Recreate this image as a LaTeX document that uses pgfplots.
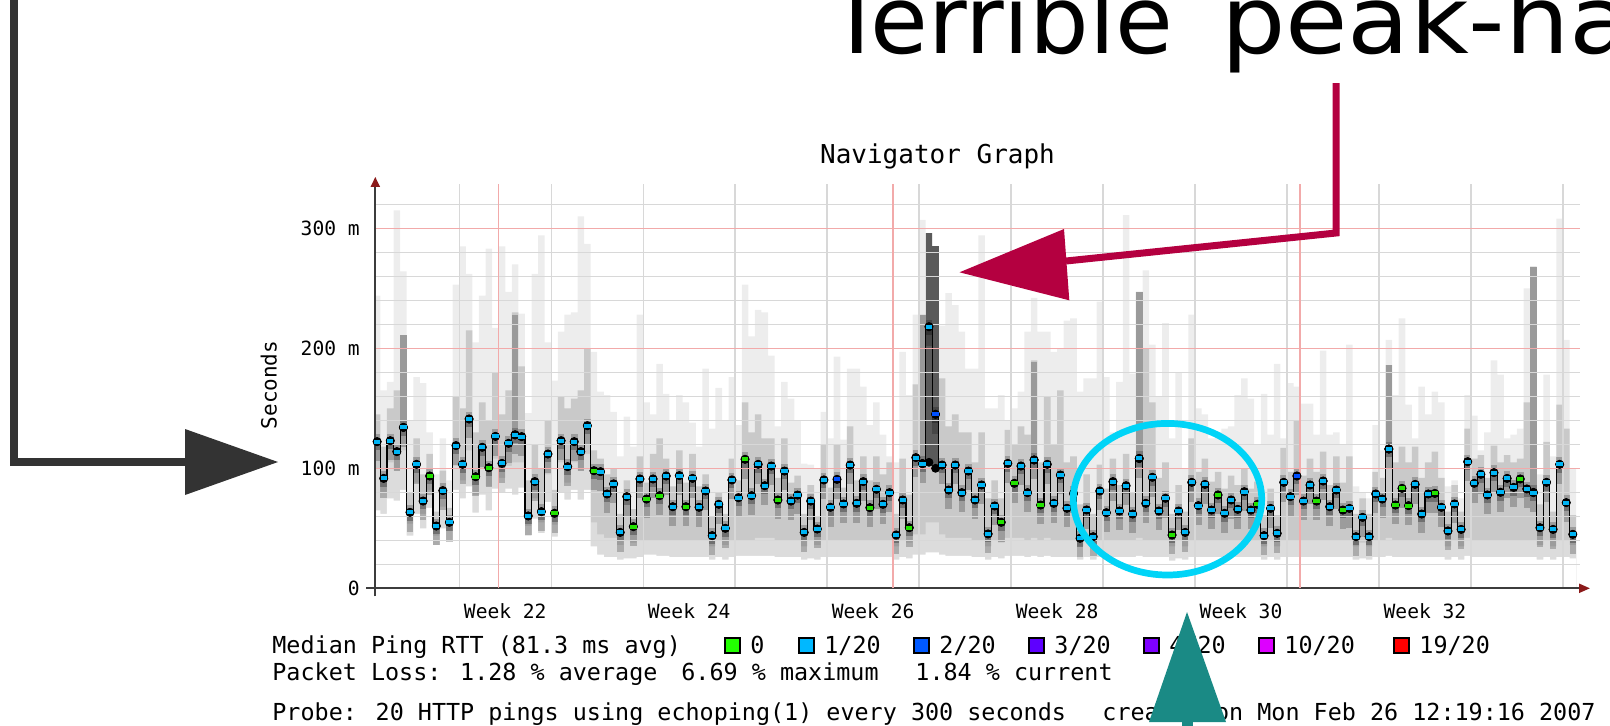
\documentclass[border=0pt]{standalone}
\usepackage{pgfplots}
\pgfplotsset{compat=1.18}
\usepackage{pgfplotstable}
\usepackage{fontspec}
\setmainfont{DejaVu Sans}
\newfontfamily\mono{DejaVu Sans Mono}
\usetikzlibrary{arrows.meta}

\definecolor{smL}{HTML}{EDEDED}
\definecolor{smM}{HTML}{C9C9C9}
\definecolor{smB}{HTML}{DCDCDC}
\definecolor{spkM}{HTML}{9A9A9A}
\definecolor{spkD}{HTML}{5A5A5A}
\definecolor{grd}{HTML}{D8D8D8}
\definecolor{grdR}{HTML}{F2AAAA}
\definecolor{lgreen}{HTML}{22E000}
\definecolor{lblue}{HTML}{00B4F4}
\definecolor{dblue}{HTML}{0050FF}
\definecolor{axdark}{HTML}{3C3C3C}
\definecolor{axred}{HTML}{8B1A1A}
\definecolor{crim}{RGB}{180,0,64}
\definecolor{cyanE}{RGB}{0,212,247}
\definecolor{teal2}{RGB}{26,138,133}
\definecolor{darkarr}{HTML}{333333}
\definecolor{lgG}{HTML}{22FF00}
\definecolor{lgLB}{HTML}{00B8FF}
\definecolor{lgB}{HTML}{0059FF}
\definecolor{lgV}{HTML}{5E00FF}
\definecolor{lgP}{HTML}{7E00FF}
\definecolor{lgM}{HTML}{DD00FF}
\definecolor{lgR}{HTML}{FF0000}

% c: loss class of the bin (0 = no loss, 1 = 1/20, 2 = 2/20; 9 = closing row)
\pgfplotstableread{
x lo qa med qb hi c
-6.5 65 100 122.2 145 244 1
-6.0 62 80 91.6 118 165 1
-5.5 75 105 123.0 150 172 1
-5.0 73 98 113.9 165 315 1
-4.5 82 115 134.1 210 264 1
-4.0 44 54 63.3 80 140 1
-3.5 62 88 103.3 125 176 1
-3.0 50 62 72.7 95 171 1
-2.5 67 82 93.6 112 130 0
-2.0 36 44 51.9 64 95 1
-1.5 50 68 81.4 98 125 1
-1.0 40 48 55.0 67 90 1
-0.5 82 102 118.9 160 253 1
0.0 75 90 103.3 150 285 1
0.5 85 115 141.1 215 262 1
1.0 63 78 93.0 130 205 0
1.5 78 100 117.5 155 244 1
2.0 65 85 100.5 140 283 0
2.5 83 108 126.6 180 217 1
3.0 80 92 104.1 145 285 1
3.5 83 102 120.8 165 247 1
4.0 78 105 127.8 230 270 1
4.5 84 105 126.4 185 229 1
5.0 44 52 60.3 90 146 1
5.5 58 75 88.9 120 262 1
6.0 46 55 63.9 100 294 1
6.5 72 95 111.9 140 205 1
7.0 43 53 62.5 82 173 0
7.5 80 105 123.0 160 214 1
8.0 74 88 101.4 150 228 1
8.5 82 105 122.2 158 230 1
9.0 74 98 113.9 165 310 1
9.5 82 112 135.5 200 287 1
10.0 35 55 98.0 115 197 0
10.5 28 45 97.2 108 164 1
11.0 26 42 78.6 95 161 1
11.5 26 42 87.0 100 147 1
12.0 24 36 46.6 62 110 1
12.5 25 40 76.4 90 143 1
13.0 25 38 51.4 66 118 0
13.5 26 40 91.1 110 228 1
14.0 28 40 74.4 88 155 0
14.5 28 40 91.1 112 145 1
15.0 27 40 77.2 125 187 0
15.5 27 40 93.6 108 162 1
16.0 26 40 68.0 85 140 1
16.5 26 40 93.9 115 161 1
17.0 26 40 68.0 88 155 0
17.5 26 40 91.6 112 138 1
18.0 26 40 67.5 85 118 1
18.5 26 40 81.1 95 183 1
19.0 24 35 43.9 60 133 1
19.5 26 40 70.0 80 167 1
20.0 24 36 50.0 62 140 1
20.5 26 40 90.3 108 176 1
21.0 27 40 75.5 90 136 1
21.5 27 40 107.5 155 253 0
22.0 27 40 77.2 130 210 1
22.5 27 42 103.3 145 232 1
23.0 27 42 85.5 125 230 1
23.5 27 42 101.9 125 194 1
24.0 26 40 73.6 92 135 0
24.5 26 40 97.7 125 172 1
25.0 26 40 72.7 88 158 1
25.5 26 40 77.7 94 140 1
26.0 24 35 46.6 62 104 1
26.5 25 40 72.7 86 103 1
27.0 24 36 49.4 60 100 1
27.5 26 40 90.3 120 147 1
28.0 26 40 67.5 84 125 1
28.5 26 40 90.8 120 193 2
29.0 26 40 70.3 84 124 1
29.5 26 40 102.7 135 183 1
30.0 26 40 70.8 90 183 1
30.5 26 40 88.9 110 168 1
31.0 26 40 67.2 90 136 0
31.5 26 40 82.5 110 155 1
32.0 26 40 70.0 95 128 1
32.5 26 40 79.7 105 110 1
33.0 24 35 44.4 62 105 1
33.5 26 40 73.6 108 197 1
34.0 25 38 50.5 78 161 0
34.5 28 45 108.9 170 228 1
35.0 28 45 103.9 228 307 1
35.5 30 55 218.0 296 296 1
36.0 30 55 145.0 285 285 2
36.5 28 45 102.7 175 219 1
37.0 27 42 81.9 135 246 1
37.5 27 42 102.7 145 236 1
38.0 27 42 79.7 130 214 1
38.5 27 42 97.7 130 183 1
39.0 26 40 73.6 105 183 1
39.5 26 40 86.1 130 294 1
40.0 24 35 45.3 75 150 1
40.5 26 40 68.6 90 150 1
41.0 25 38 55.0 75 161 0
41.5 27 42 104.1 132 140 1
42.0 27 42 87.5 120 150 0
42.5 27 42 101.9 135 164 1
43.0 26 40 79.7 128 214 1
43.5 27 42 106.9 190 242 1
44.0 26 40 69.4 105 214 0
44.5 27 42 103.3 160 214 1
45.0 26 40 70.8 120 197 1
45.5 26 40 94.4 165 200 1
46.0 26 40 66.7 105 223 1
46.5 26 40 79.0 110 225 1
47.0 24 35 41.7 70 164 1
47.5 26 40 65.3 95 175 1
48.0 24 35 43.0 62 175 1
48.5 26 40 81.1 103 239 1
49.0 26 40 63.0 83 176 1
49.5 26 40 88.9 108 130 1
50.0 26 40 64.4 86 172 1
50.5 26 40 85.5 112 311 1
51.0 26 40 61.9 80 179 1
51.5 27 42 108.3 247 247 1
52.0 26 40 70.8 200 265 1
52.5 26 40 92.5 155 203 1
53.0 26 40 64.4 92 160 1
53.5 26 40 75.0 105 221 1
54.0 23 35 44.4 62 125 0
54.5 25 40 64.4 86 180 1
55.0 24 35 46.6 64 100 1
55.5 26 40 88.3 125 228 1
56.0 26 40 68.9 97 150 1
56.5 26 40 86.6 108 145 1
57.0 26 40 65.2 89 125 1
57.5 26 40 77.8 97 130 0
58.0 26 40 62.5 83 133 1
58.5 26 40 73.6 94 135 1
59.0 26 40 65.8 86 161 1
59.5 26 40 80.5 100 175 1
60.0 26 40 65.2 83 158 1
60.5 26 40 70.0 89 120 0
61.0 24 35 43.9 61 162 1
61.5 26 40 66.6 83 128 1
62.0 24 35 45.8 61 187 1
62.5 26 40 88.3 117 125 1
63.0 26 40 76.4 97 171 1
63.5 26 40 93.6 140 168 2
64.0 26 40 72.7 94 154 1
64.5 26 40 86.1 108 154 1
65.0 26 40 72.7 97 128 0
65.5 26 40 89.4 114 198 1
66.0 26 40 68.0 86 128 1
66.5 26 40 81.9 110 130 1
67.0 26 40 65.2 88 120 0
67.5 26 40 66.6 110 203 1
68.0 24 35 43.0 62 85 1
68.5 25 38 59.1 75 80 1
69.0 24 35 43.0 62 75 1
69.5 26 40 78.6 97 136 1
70.0 26 40 74.4 92 115 1
70.5 27 42 116.1 186 207 1
71.0 26 40 69.4 105 161 0
71.5 26 40 83.3 118 225 0
72.0 26 40 68.9 105 153 0
72.5 26 40 86.6 118 125 1
73.0 26 40 61.9 92 168 1
73.5 26 40 78.6 105 145 1
74.0 26 40 79.1 114 164 0
74.5 26 40 67.5 92 155 1
75.0 24 35 47.8 64 85 1
75.5 26 40 70.3 86 90 1
76.0 24 35 49.1 64 75 1
76.5 27 42 105.5 133 161 1
77.0 26 40 87.5 108 144 1
77.5 26 40 95.0 111 115 1
78.0 26 40 77.8 92 130 1
78.5 26 40 96.4 119 190 1
79.0 26 40 80.0 105 178 1
79.5 26 40 91.6 111 125 1
80.0 26 40 84.1 105 128 1
80.5 26 40 91.1 108 133 0
81.0 26 40 82.8 155 250 1
81.5 26 40 79.7 268 268 1
82.0 24 36 50.5 70 95 1
82.5 26 40 88.3 122 178 1
83.0 24 35 49.1 64 110 1
83.5 26 40 103.3 153 308 1
84.0 26 40 71.4 133 207 1
84.5 25 36 45.0 61 100 1
85.0 25 36 45.0 61 100 9
}\data

\pgfplotstableread{
x d1 d2
-4.5 134 211
4.0 128 228
35.0 104 228
43.5 107 189
51.5 108 247
70.5 116 186
81.5 80 268
}\spkMid

\pgfplotstableread{
x d1 d2
35.5 105 296
36.0 100 285
}\spkDark

\begin{document}
\begin{tikzpicture}
\useasboundingbox (0,0) rectangle (805pt,362.5pt);
\begin{axis}[
  at={(187.65pt,68.35pt)}, anchor=south west,
  scale only axis, width=602.36pt, height=202.2pt,
  xmin=-6.39, xmax=85.3, ymin=0, ymax=337,
  axis on top,
  axis x line*=bottom, axis y line*=left,
  x axis line style={draw=axdark, line width=1pt, -{Triangle[length=5.5pt,width=4.5pt,color=axred]}, shorten >=-5pt, shorten <=-4.5pt},
  y axis line style={draw=axdark, line width=1pt, -{Triangle[length=5pt,width=4.5pt,color=axred]}, shorten >=-3.5pt, shorten <=-4pt},
  xtick={3.5,17.5,31.5,45.5,59.5,73.5},
  xticklabels={Week 22,Week 24,Week 26,Week 28,Week 30,Week 32},
  minor xtick={0,7,...,84},
  extra x ticks={3,33,64}, extra x tick labels={},
  extra x tick style={grid=major},
  xmajorgrids=false, xminorgrids=true,
  ytick={0,100,200,300}, yticklabels={0,100 m,200 m,300 m},
  minor ytick={20,40,...,320},
  ymajorgrids=true, yminorgrids=true,
  major grid style={draw=grdR, line width=0.7pt},
  minor grid style={draw=grd, line width=0.7pt},
  major tick length=0pt, minor tick length=0pt, tick style={draw=none},
  xticklabel style={font=\mono\fontsize{9.8}{10}\selectfont, anchor=base, inner sep=0pt, yshift=-14.85pt},
  yticklabel style={font=\mono\fontsize{9.8}{10}\selectfont, anchor=base east, inner sep=0pt, xshift=-7.6pt, yshift=-3.6pt},
]
\addplot[const plot, fill=smL, draw=none, forget plot] table[x=x, y=hi] {\data} \closedcycle;
\addplot[const plot, fill=smM, draw=none, forget plot] table[x=x, y=qb] {\data} \closedcycle;
\addplot[const plot, fill=smB, draw=none, forget plot] table[x=x, y=qa] {\data} \closedcycle;
\addplot[const plot, fill=white, draw=none, forget plot] table[x=x, y=lo] {\data} \closedcycle;

\addplot[only marks, mark=none, forget plot,
  error bars/.cd, y dir=plus, y explicit, error mark=none,
  error bar style={line width=3.29pt, draw=spkM}]
  table[x expr=\thisrow{x}+0.25, y=d1, y error plus expr=\thisrow{d2}-\thisrow{d1}] {\spkMid};
\addplot[only marks, mark=none, forget plot,
  error bars/.cd, y dir=plus, y explicit, error mark=none,
  error bar style={line width=3.29pt, draw=spkD}]
  table[x expr=\thisrow{x}+0.25, y=d1, y error plus expr=\thisrow{d2}-\thisrow{d1}] {\spkDark};

\addplot[only marks, mark=none, forget plot, restrict x to domain=-7:84.9,
  error bars/.cd, y dir=both, y explicit, error mark=none,
  error bar style={line width=3.29pt, draw=black, opacity=0.22}]
  table[x expr=\thisrow{x}+0.25, y=med, y error plus expr=6, y error minus expr=16] {\data};
\addplot[only marks, mark=none, forget plot, restrict x to domain=-7:84.9,
  error bars/.cd, y dir=both, y explicit, error mark=none,
  error bar style={line width=3.29pt, draw=black, opacity=0.28}]
  table[x expr=\thisrow{x}+0.25, y=med, y error plus expr=3, y error minus expr=7] {\data};

\addplot[const plot, draw=black, line width=0.55pt, forget plot] table[x=x, y=med] {\data};

\addplot[only marks, mark=-, mark size=1.6pt, mark options={draw=lblue, line width=2pt},
  restrict expr to domain={\thisrow{c}}{1:1}, forget plot]
  table[x expr=\thisrow{x}+0.25, y=med] {\data};
\addplot[only marks, mark=-, mark size=1.6pt, mark options={draw=lgreen, line width=2pt},
  restrict expr to domain={\thisrow{c}}{0:0}, forget plot]
  table[x expr=\thisrow{x}+0.25, y=med] {\data};
\addplot[only marks, mark=-, mark size=1.6pt, mark options={draw=dblue, line width=2pt},
  restrict expr to domain={\thisrow{c}}{2:2}, forget plot]
  table[x expr=\thisrow{x}+0.25, y=med] {\data};
\end{axis}

\begin{scope}[x=0.5pt, y=-0.5pt, shift={(0pt,362.5pt)}]
  % title and y label
  \node[anchor=base, inner sep=0pt, font=\mono\fontsize{13}{13}\selectfont] at (937.5,163) {Navigator Graph};
  \node[rotate=90, anchor=base, inner sep=0pt, font=\mono\fontsize{10.5}{11}\selectfont] at (276.5,385) {Seconds};

  % legend rows
  \begin{scope}[every node/.style={anchor=base west, inner sep=0pt, font=\mono\fontsize{11.7}{12}\selectfont}]
    \node at (272,653) {Median Ping RTT (81.3 ms avg)};
    \filldraw[fill=lgG, draw=black, line width=0.6pt] (725,638) rectangle (740,653);
    \node at (750,653) {0};
    \filldraw[fill=lgLB, draw=black, line width=0.6pt] (799,638) rectangle (814,653);
    \node at (824,653) {1/20};
    \filldraw[fill=lgB, draw=black, line width=0.6pt] (914,638) rectangle (929,653);
    \node at (939,653) {2/20};
    \filldraw[fill=lgV, draw=black, line width=0.6pt] (1029,638) rectangle (1044,653);
    \node at (1054,653) {3/20};
    \filldraw[fill=lgP, draw=black, line width=0.6pt] (1144,638) rectangle (1159,653);
    \node at (1169,653) {4/20};
    \filldraw[fill=lgM, draw=black, line width=0.6pt] (1259,638) rectangle (1274,653);
    \node at (1284,653) {10/20};
    \filldraw[fill=lgR, draw=black, line width=0.6pt] (1394,638) rectangle (1409,653);
    \node at (1419,653) {19/20};

    \node at (272,680) {Packet Loss: 1.28 \% average};
    \node at (681,680) {6.69 \% maximum};
    \node at (915,680) {1.84 \% current};

    \node at (272,720) {Probe: 20 HTTP pings using echoping(1) every 300 seconds};
    \node at (1102,720) {created on Mon Feb 26 12:19:16 2007};
  \end{scope}

  % big heading (cut by the top and right edges, as in the slide)
  \node[anchor=base west, inner sep=0pt, font=\fontsize{47}{50}\selectfont] at (828.5,53.5) {Terrible};
  \node[anchor=base west, inner sep=0pt, font=\fontsize{47}{50}\selectfont] at (1220.6,53.5) {\scalebox{1.08}[1]{peak-ha}};

  % dark arrow
  \draw[darkarr, line width=4pt] (13.5,-5) -- (13.5,462) -- (190,462);
  \fill[darkarr] (185,429) -- (278,462) -- (185,495) -- cycle;

  % crimson arrow
  \draw[crim, line width=3.5pt] (1336,83) -- (1336,233) -- (1066,261);
  \fill[crim] (959.5,272.3) -- (1064,229) -- (1069.3,300.3) -- cycle;

  % cyan ellipse
  \draw[cyanE, line width=3.35pt] (1167.5,499.2) ellipse [x radius=47.1pt, y radius=37.9pt];

  % teal arrow
  \fill[teal2] (1187,612) -- (1226,722) -- (1149,722) -- cycle;
  \fill[teal2] (1182,720) rectangle (1193,730);
\end{scope}
\end{tikzpicture}
\end{document}
